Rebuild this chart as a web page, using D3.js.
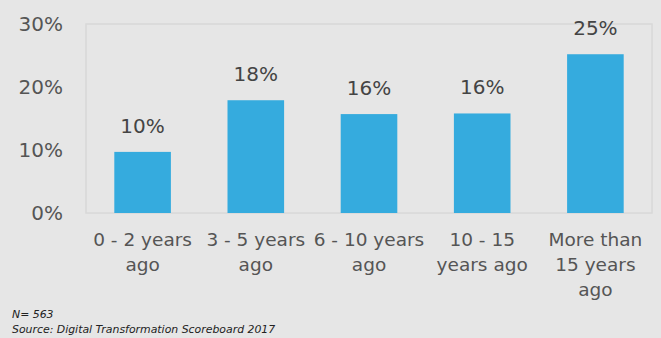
<!DOCTYPE html>
<html>
<head>
<meta charset="utf-8">
<script src="https://cdn.jsdelivr.net/npm/d3@7"></script>
<style>
  html, body { margin: 0; padding: 0; background: #e6e6e6; }
  svg { display: block; }
</style>
</head>
<body>
<div id="chart"></div>
<script>
const categories = [
  ['0 - 2 years', 'ago'],
  ['3 - 5 years', 'ago'],
  ['6 - 10 years', 'ago'],
  ['10 - 15', 'years ago'],
  ['More than', '15 years', 'ago']
];
const values = [9.7, 17.9, 15.7, 15.8, 25.2];
const valueLabels = ['10%', '18%', '16%', '16%', '25%'];
const yTicks = [0, 10, 20, 30];
const notes = ['N= 563', 'Source: Digital Transformation Scoreboard 2017'];

const width = 661;
const height = 338;
const margin = { top: 24, right: 9, bottom: 125, left: 86 };
const font = '"DejaVu Sans", sans-serif';

const svg = d3.select('#chart').append('svg')
  .attr('width', width)
  .attr('height', height);

svg.append('rect')
  .attr('width', width)
  .attr('height', height)
  .attr('fill', '#e6e6e6');

const plotW = width - margin.left - margin.right;
const plotH = height - margin.top - margin.bottom;

const g = svg.append('g')
  .attr('transform', `translate(${margin.left}, ${margin.top})`);

const x = d3.scaleBand()
  .domain(d3.range(categories.length))
  .range([0, plotW])
  .paddingInner(0.5)
  .paddingOuter(0.25);

const y = d3.scaleLinear().domain([0, 30]).range([plotH, 0]);

// plot frame
g.append('rect')
  .attr('x', 0)
  .attr('y', 0)
  .attr('width', plotW)
  .attr('height', plotH)
  .attr('fill', 'none')
  .attr('stroke', '#d8d8d8')
  .attr('stroke-width', 1.5);

// y axis labels
const yAxis = g.append('g')
  .call(d3.axisLeft(y).tickValues(yTicks).tickFormat(d => d + '%').tickSize(0).tickPadding(23));
yAxis.select('.domain').remove();
yAxis.selectAll('text')
  .attr('font-family', font)
  .attr('font-size', 20)
  .attr('fill', '#555');

// bars
g.selectAll('.bar')
  .data(values)
  .enter().append('rect')
  .attr('class', 'bar')
  .attr('x', (d, i) => x(i))
  .attr('y', d => y(d))
  .attr('width', x.bandwidth())
  .attr('height', d => plotH - y(d))
  .attr('fill', '#35abde');

// value labels
g.selectAll('.val')
  .data(values)
  .enter().append('text')
  .attr('class', 'val')
  .attr('x', (d, i) => x(i) + x.bandwidth() / 2)
  .attr('y', d => y(d) - 19)
  .attr('text-anchor', 'middle')
  .attr('font-family', font)
  .attr('font-size', 20)
  .attr('fill', '#444')
  .text((d, i) => valueLabels[i]);

// category labels
const cat = g.selectAll('.cat')
  .data(categories)
  .enter().append('text')
  .attr('class', 'cat')
  .attr('text-anchor', 'middle')
  .attr('font-family', font)
  .attr('font-size', 18.5)
  .attr('fill', '#555');

cat.selectAll('tspan')
  .data((d, i) => d.map(line => ({ line, i })))
  .enter().append('tspan')
  .attr('x', d => x(d.i) + x.bandwidth() / 2)
  .attr('y', (d, j) => plotH + 33 + j * 25)
  .text(d => d.line);

// notes
svg.selectAll('.note')
  .data(notes)
  .enter().append('text')
  .attr('class', 'note')
  .attr('x', 12)
  .attr('y', (d, i) => 318 + i * 15)
  .attr('font-family', font)
  .attr('font-size', 10.9)
  .attr('font-style', 'italic')
  .attr('fill', '#222')
  .text(d => d);
</script>
</body>
</html>
